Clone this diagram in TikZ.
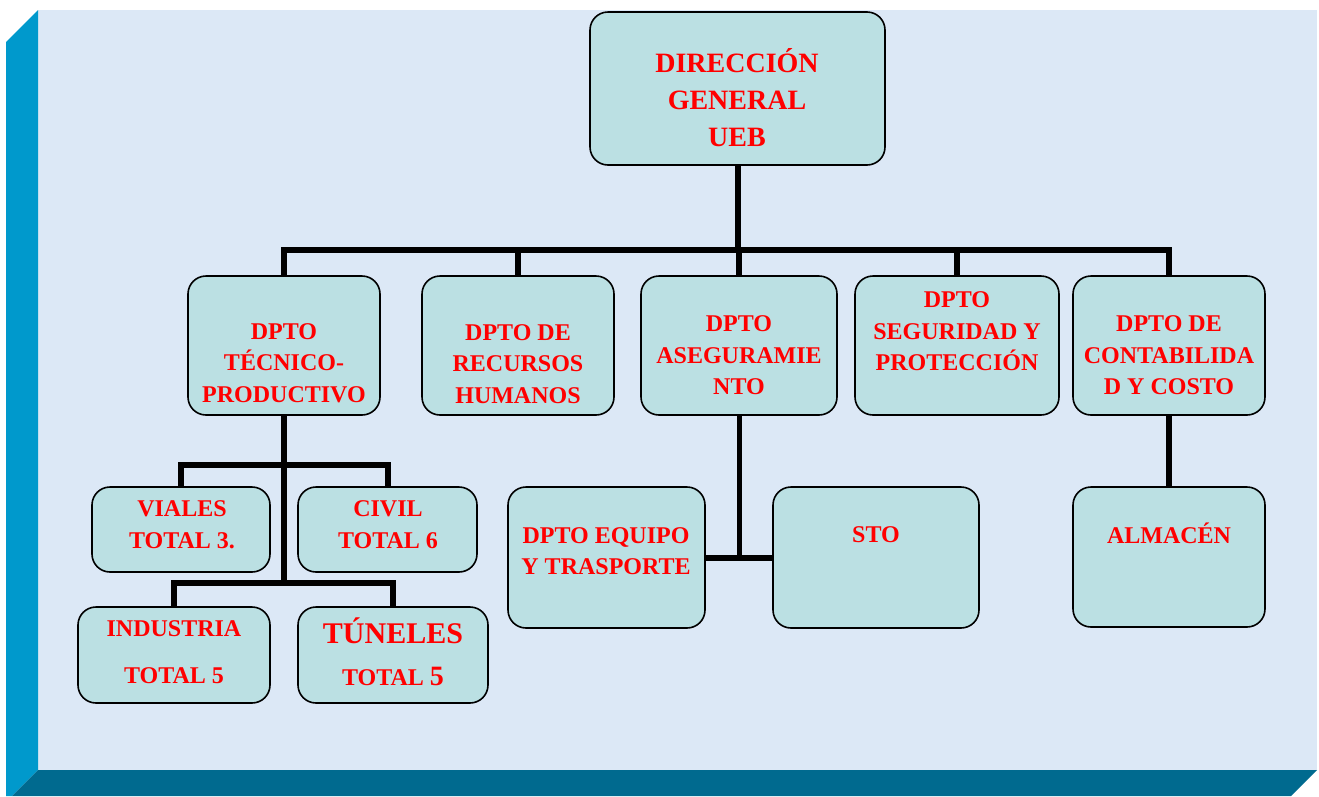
\documentclass[tikz,border=0pt]{standalone}
\usepackage{fontspec}
\setmainfont{Liberation Serif}
\usetikzlibrary{positioning}
\definecolor{panel}{RGB}{220,232,246}
\definecolor{boxfill}{RGB}{187,224,227}
\definecolor{sidebar}{RGB}{0,153,204}
\definecolor{footbar}{RGB}{0,106,143}
\begin{document}
\begin{tikzpicture}[x=1pt,y=-1pt,
  box/.style={draw=black,line width=1.6pt,fill=boxfill,rounded corners=18pt,inner sep=0pt},
  txt/.style={text=red,font=\bfseries\fontsize{24}{31.5}\selectfont,align=center,inner sep=0pt},
  link/.style={line width=6pt,black}]
\useasboundingbox (0,0) rectangle (1319,796);
\fill[panel] (38,10) rectangle (1317,770);
\fill[sidebar] (6,42)--(38,10)--(38,770)--(12,796)--(6,796)--cycle;
\fill[footbar] (38,770)--(1317,770)--(1291,796)--(12,796)--cycle;

\node[box,minimum width=295pt,minimum height=153pt] (DG) at (737.5,88.5) {};
\node[box,minimum width=192pt,minimum height=139pt] (TEC) at (284,345.5) {};
\node[box,minimum width=192pt,minimum height=139pt] (RH) at (518,345.5) {};
\node[box,minimum width=196pt,minimum height=139pt] (AS) at (739,345.5) {};
\node[box,minimum width=204pt,minimum height=139pt] (SP) at (957,345.5) {};
\node[box,minimum width=192pt,minimum height=139pt] (CC) at (1169,345.5) {};
\node[box,minimum width=178pt,minimum height=85pt] (VI) at (181,529.5) {};
\node[box,minimum width=179pt,minimum height=85pt] (CI) at (387.5,529.5) {};
\node[box,minimum width=192pt,minimum height=96pt] (IN) at (174,655) {};
\node[box,minimum width=190pt,minimum height=96pt] (TU) at (393,655) {};
\node[box,minimum width=197pt,minimum height=141pt] (ET) at (606.5,557.5) {};
\node[box,minimum width=206pt,minimum height=141pt] (ST) at (876,557.5) {};
\node[box,minimum width=192pt,minimum height=140pt] (AL) at (1169,557) {};

\node[txt,font=\bfseries\fontsize{28}{37}\selectfont] (DGt) at (737,98) {DIRECCIÓN\\GENERAL\\UEB};
\node[txt] (TECt) at (284,363) {DPTO\\TÉCNICO-\\PRODUCTIVO};
\node[txt] (RHt) at (518,364) {DPTO DE\\RECURSOS\\HUMANOS};
\node[txt] (ASt) at (739,355.5) {DPTO\\ASEGURAMIE\\NTO};
\node[txt] (SPt) at (957,331.5) {DPTO\\SEGURIDAD Y\\PROTECCIÓN};
\node[txt] (CCt) at (1169,355.5) {DPTO DE\\CONTABILIDA\\D Y COSTO};
\node[txt] (VIt) at (182,524.5) {VIALES\\TOTAL 3.};
\node[txt] (CIt) at (388,524.5) {CIVIL\\TOTAL 6};
\node[txt,font=\bfseries\fontsize{24}{47}\selectfont] (INt) at (174,652.5) {INDUSTRIA\\TOTAL 5};
\node[txt,font=\bfseries\fontsize{24}{42}\selectfont] (TUt) at (393,652) {{\fontsize{30}{42}\selectfont TÚNELES}\\TOTAL {\fontsize{28}{42}\selectfont 5}};
\node[txt] (ETt) at (606,551) {DPTO EQUIPO\\Y TRASPORTE};
\node[txt] (STt) at (876,535) {STO};
\node[txt] (ALt) at (1169,533) {ALMACÉN};

\coordinate (BUS) at (737.5,250);
\coordinate (T1) at (284,465);
\coordinate (T2) at (284,583);

\draw[link] (DG.south)--(BUS);
\draw[link] (TEC.north)|-(BUS);
\draw[link] (RH.north)|-(BUS);
\draw[link] (AS.north)--(AS.north|-BUS);
\draw[link] (SP.north)|-(BUS);
\draw[link] (CC.north)|-(BUS);
\draw[link] (TEC.south)--(T2);
\draw[link] (VI.north)|-(T1)-|(CI.north);
\draw[link] (IN.north)|-(T2)-|(TU.north);
\draw[link,line width=5pt] (AS.south)--(AS.south|-ET.east);
\draw[link] (ET.east)--(ST.west);
\draw[link] (CC.south)--(AL.north);
\end{tikzpicture}
\end{document}
